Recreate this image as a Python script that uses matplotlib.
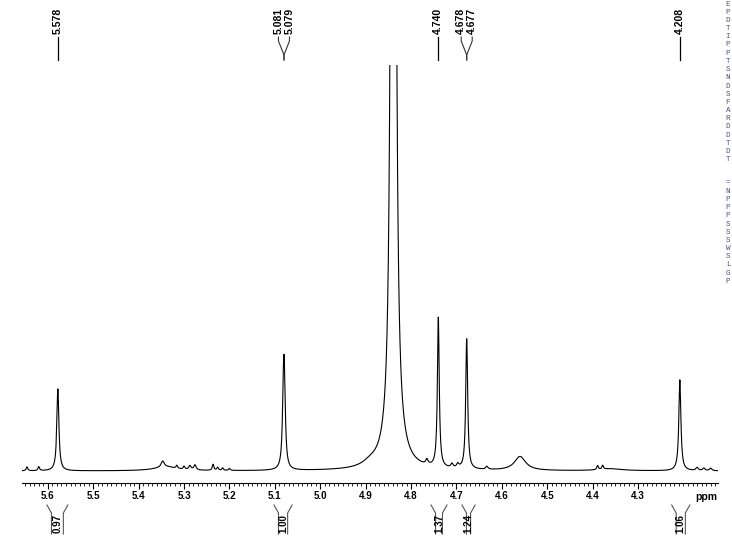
import numpy as np
import matplotlib.pyplot as plt
from matplotlib.lines import Line2D

# peak table (ppm, height above baseline, half width in ppm)
peak_ppm = [5.646, 5.620, 5.578, 5.347, 5.340, 5.316, 5.300, 5.287, 5.276, 5.236,
            5.226, 5.215, 5.200, 5.081, 5.079, 4.890, 4.839, 4.836, 4.765, 4.740,
            4.710, 4.697, 4.678, 4.677, 4.633, 4.560, 4.389, 4.378, 4.360, 4.208,
            4.170, 4.155, 4.140]
peak_height = [4, 4, 82, 6, 4, 3, 3, 4, 5, 6,
               3, 2.5, 2, 66, 66, 4, 5400, 10, 5, 150,
               4, 4, 68, 68, 3, 14, 4, 4, 2, 91,
               3, 2.5, 2.5]
peak_width = [0.002, 0.002, 0.0027, 0.004, 0.03, 0.002, 0.002, 0.003, 0.003, 0.002,
              0.002, 0.002, 0.002, 0.0027, 0.0027, 0.02, 0.0022, 0.026, 0.003, 0.0024,
              0.003, 0.003, 0.0024, 0.0024, 0.003, 0.015, 0.002, 0.002, 0.03, 0.0027,
              0.003, 0.003, 0.003]

# picked peaks shown on top
label_groups = [["5.578"], ["5.081", "5.079"], ["4.740"], ["4.678", "4.677"], ["4.208"]]

# integrals (from, to, value)
int_from = [5.602, 5.102, 4.756, 4.688, 4.226]
int_to = [5.556, 5.062, 4.721, 4.659, 4.186]
int_value = ["0.97", "1.00", "1.37", "1.24", "1.06"]

major_ticks = [5.6, 5.5, 5.4, 5.3, 5.2, 5.1, 5.0, 4.9, 4.8, 4.7, 4.6, 4.5, 4.4, 4.3]

# truncated parameter list at the right edge
param_chars = list("EPDTIPPTSNDSFARDDTDT")
param_chars2 = list("=NPPPSSSWSLGP")

x = np.linspace(4.10, 5.68, 16000)
y = np.zeros_like(x)
for p, h, w in zip(peak_ppm, peak_height, peak_width):
    y += h * w**2 / (w**2 + (x - p)**2)

plt.rcParams['font.family'] = ['Liberation Sans', 'DejaVu Sans']
fig = plt.figure(figsize=(7.32, 5.43), dpi=100)
W, H = 732, 543
ax_top, ax_bot = 65, 483
ax = fig.add_axes([22 / W, 1 - ax_bot / H, (718 - 22) / W, (ax_bot - ax_top) / H])
ax.plot(x, y, color='black', lw=0.8)
ax.set_xlim(5.657, 4.124)
ax.set_ylim(-12, 406)

for s in ['left', 'right', 'top']:
    ax.spines[s].set_visible(False)
ax.spines['bottom'].set_linewidth(0.8)
ax.set_yticks([])
ax.set_xticks(major_ticks)
ax.set_xticklabels(['%.1f' % t for t in major_ticks], fontsize=7, fontweight='bold')
ax.set_xticks(np.arange(4.13, 5.655, 0.01), minor=True)
ax.tick_params(axis='x', which='major', length=4, width=0.8, pad=2)
ax.tick_params(axis='x', which='minor', length=2, width=0.6)
ax.text(706, H - 497, 'ppm', transform=None, fontsize=7.5, fontweight='bold',
        ha='center', va='center')

trans = ax.get_xaxis_transform()


def yf(p):
    # pixel row -> axes fraction
    return (ax_bot - p) / (ax_bot - ax_top)


ppm_per_px = (5.657 - 4.124) / (718 - 22)

# peak labels
for grp in label_groups:
    vals = [float(v) for v in grp]
    centre = np.mean(vals)
    n = len(grp)
    for i, lab in enumerate(grp):
        off = (i - (n - 1) / 2) * 11 * ppm_per_px
        lx = centre - off
        ax.text(lx, yf(34), lab, transform=trans, rotation=90, fontsize=7.5,
                fontweight='bold', ha='center', va='bottom', clip_on=False)
        if n == 1:
            ax.add_line(Line2D([lx, lx], [yf(37), yf(60)], transform=trans,
                               color='black', lw=0.9, clip_on=False))
        else:
            ax.add_line(Line2D([lx, lx, centre, centre],
                               [yf(37), yf(41), yf(55), yf(60)], transform=trans,
                               color='#333333', lw=0.8, clip_on=False))

# integrals
for a, b, v in zip(int_from, int_to, int_value):
    d = 4.5 * ppm_per_px
    ax.add_line(Line2D([a, a - d, a - d], [yf(505), yf(513), yf(534)], transform=trans,
                       color='#555555', lw=0.8, clip_on=False))
    ax.add_line(Line2D([b, b + d, b + d], [yf(505), yf(513), yf(534)], transform=trans,
                       color='#555555', lw=0.8, clip_on=False))
    ax.text((a + b) / 2, yf(533), v, transform=trans, rotation=90, fontsize=7,
            fontweight='bold', ha='center', va='bottom', clip_on=False)

for i, c in enumerate(param_chars):
    fig.text(728 / W, 1 - (4 + i * 8.2) / H, c, fontsize=5.5, family='Liberation Mono',
             color='#50508a', ha='center', va='center')
for i, c in enumerate(param_chars2):
    fig.text(728 / W, 1 - (183 + i * 8.2) / H, c, fontsize=5.5, family='Liberation Mono',
             color='#50508a', ha='center', va='center')

fig.savefig('out.png', dpi=100)
